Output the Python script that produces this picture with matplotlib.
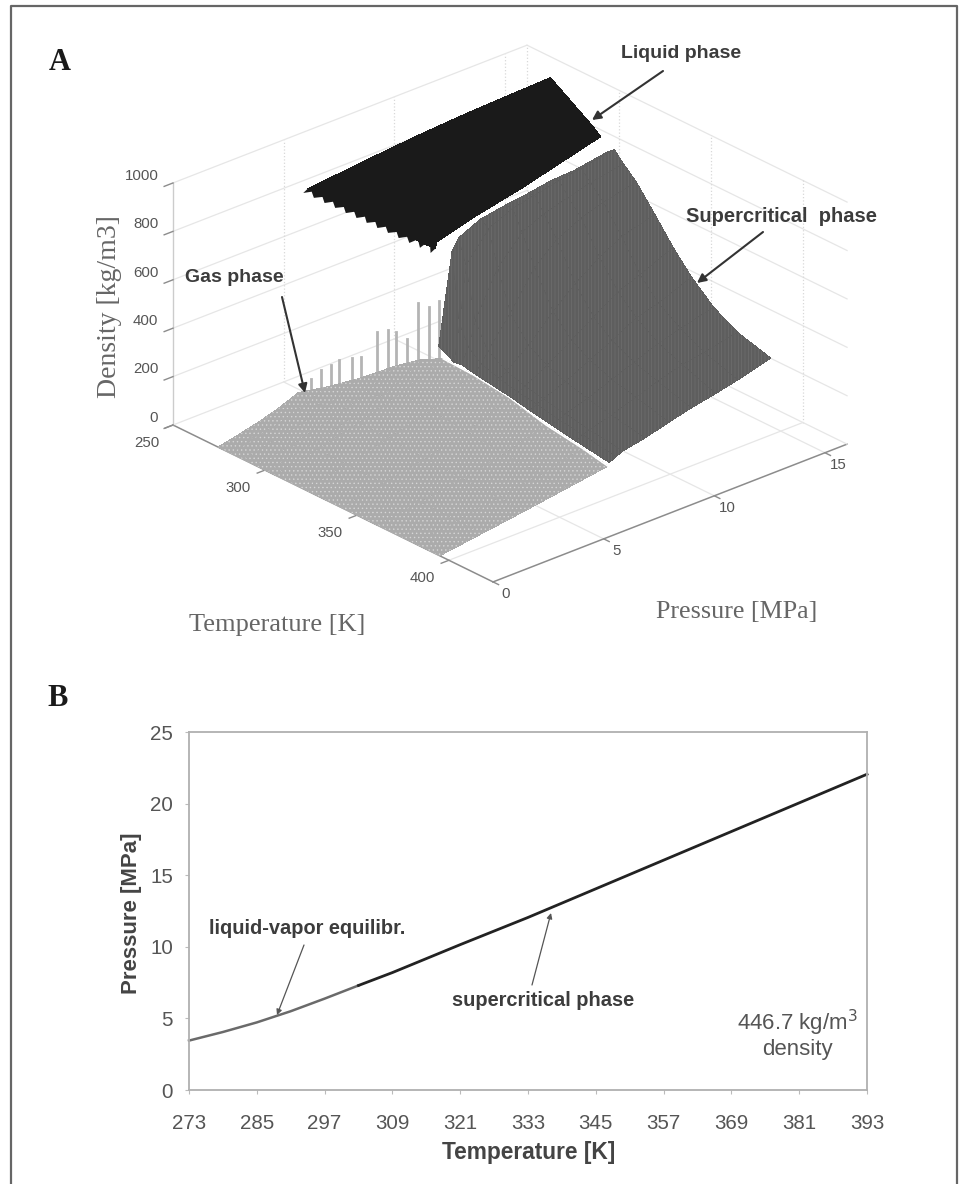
import matplotlib
matplotlib.use("Agg")
import matplotlib.pyplot as plt
import numpy as np
from matplotlib.lines import Line2D
from matplotlib.patches import FancyArrowPatch
from mpl_toolkits.mplot3d import proj3d
from mpl_toolkits.mplot3d.art3d import Poly3DCollection

FIG_W, FIG_H = 965, 1184
plt.rcParams["font.family"] = ["Liberation Sans", "DejaVu Sans"]
plt.rcParams["hatch.linewidth"] = 0.5

# panel A: axis ranges and ticks
temp_lim = (250, 424)
pres_lim = (0, 16)
dens_lim = (0, 1000)
temp_ticks = [250, 300, 350, 400]
pres_ticks = [0, 5, 10, 15]
dens_ticks = [0, 200, 400, 600, 800, 1000]

# gas phase, rows are temperatures, columns run from 0 up to gas_top_p
gas_t = [274.5, 281.5, 288.5, 295.5, 301.5, 305.5, 321.5, 341.5, 361.5, 381.5, 395]
gas_top_p = [3.64, 4.37, 5.2, 6.24, 6.97, 7.6, 7.6, 7.6, 7.6, 7.6, 7.6]
gas_steps = [0, 0.25, 0.5, 0.75, 1]
gas_rho = [
    [0, 18, 38, 63, 96],
    [0, 22, 46, 78, 120],
    [0, 26, 55, 92, 150],
    [0, 30, 66, 112, 190],
    [0, 35, 76, 130, 215],
    [0, 36, 80, 135, 210],
    [0, 35, 74, 122, 205],
    [0, 31, 66, 108, 185],
    [0, 28, 57, 92, 145],
    [0, 26, 52, 82, 122],
    [0, 24, 48, 74, 100],
]

# spikes along the top edge of the gas phase
spike_t = [278, 280.5, 282, 283.8, 286.5, 288.5, 292.5, 294.5, 296.3, 298.5, 301, 302.5, 303]
spike_p = [3.9, 4.15, 4.5, 4.7, 5.05, 5.3, 5.7, 6.0, 6.25, 6.55, 6.85, 7.2, 7.6]
spike_low = [105, 115, 120, 130, 140, 150, 160, 175, 185, 195, 205, 215, 205]
spike_high = [157, 195, 205, 229, 235, 234, 338, 343, 333, 302, 452, 428, 438]

# supercritical phase, first pressure of each row sits in super_start_p
super_t = [305.5, 309.5, 314.5, 321.5, 331.5, 341.5, 351.5, 363.5, 376.5, 394.5]
super_start_p = [7.4, 7.75, 7.7, 7.7, 7.7, 7.7, 7.7, 7.7, 7.7, 7.7]
super_p = [8.0, 8.3, 9.3, 10.4, 11.4, 12.5, 13.5, 15]
super_rho = [
    [270, 640, 685, 727, 744, 756, 773, 777, 800],
    [206, 360, 590, 700, 745, 765, 785, 800, 825],
    [215, 280, 380, 560, 665, 705, 735, 760, 785],
    [204, 232, 275, 395, 545, 625, 675, 705, 735],
    [192, 208, 230, 300, 400, 480, 550, 600, 640],
    [180, 190, 205, 255, 320, 380, 445, 480, 540],
    [164, 178, 190, 225, 275, 320, 375, 400, 455],
    [148, 160, 172, 200, 240, 275, 315, 340, 375],
    [131, 145, 155, 180, 215, 245, 275, 290, 320],
    [110, 122, 135, 153, 180, 203, 223, 244, 281],
]

# liquid phase body
liquid_t = [274.5, 276.5, 278.5, 280.5, 282.5, 284.5, 286.5, 288.5,
            290.5, 292.5, 294.5, 296.5, 298.5, 300.5, 302]
liquid_start_p = [4.05, 4.30, 4.55, 4.80, 5.06, 5.31, 5.56, 5.81,
                  6.07, 6.32, 6.57, 6.82, 7.08, 7.33, 7.52]
liquid_start_rho = [923, 903, 884, 864, 845, 825, 806, 786,
                    767, 747, 728, 708, 688, 669, 654]
liquid_p = [7.6, 9.3, 11.4, 15]
liquid_rho = [
    [955, 968, 980, 992],
    [945, 958, 970, 985],
    [935, 950, 962, 975],
    [925, 940, 952, 965],
    [915, 930, 943, 955],
    [905, 920, 934, 945],
    [892, 910, 924, 935],
    [880, 898, 913, 925],
    [865, 885, 900, 915],
    [850, 870, 887, 905],
    [830, 852, 873, 895],
    [810, 835, 858, 885],
    [775, 805, 835, 875],
    [745, 770, 805, 862],
    [680, 723, 764, 851],
]

# jagged lower edge of the liquid phase, tips and notches in turn
teeth_t = [274.5, 275.6, 276.8, 278, 279.1, 280.2, 281.4, 282.6, 283.7, 284.8, 286, 287.1, 288.2,
           289.4, 290.5, 291.6, 292.8, 294, 295.1, 296.2, 297.4, 298.6, 299.7, 300.9, 302]
teeth_p = [3.85, 4.14, 4.14, 4.43, 4.43, 4.72, 4.72, 5.01, 5.01, 5.3, 5.3, 5.59, 5.58,
           5.87, 5.87, 6.16, 6.16, 6.45, 6.45, 6.74, 6.74, 7.03, 7.03, 7.37, 7.32]
teeth_rho = [913, 912, 891, 889, 868, 867, 846, 844, 823, 822, 801, 800, 779,
             777, 756, 755, 734, 732, 711, 710, 689, 698, 667, 690, 644]

# panel B
b_temp_ticks = [273, 285, 297, 309, 321, 333, 345, 357, 369, 381, 393]
b_pres_ticks = [0, 5, 10, 15, 20, 25]
equil_t = [273, 279, 285, 291, 297, 303]
equil_p = [3.45, 4.05, 4.72, 5.5, 6.38, 7.3]
super_line_t = [303, 309, 321, 333, 345, 357, 369, 381, 393]
super_line_p = [7.3, 8.2, 10.15, 12.05, 14.05, 16.05, 18.05, 20.05, 22.05]


def fig_xy(x, y):
    return x / FIG_W, 1 - y / FIG_H


def to_pixels(ax, t, p, r):
    x, y, _ = proj3d.proj_transform(t, p, r, ax.get_proj())
    return ax.transData.transform((x, y))


def fit_box(ax, corner_a, corner_b, target_a, target_b):
    # move and scale the square 3d axes so two box corners land on given pixels
    pts = [to_pixels(ax, *corner_a), to_pixels(ax, *corner_b)]
    pos = ax.get_position()
    side = pos.width * FIG_W
    cx = (pos.x0 + pos.width / 2) * FIG_W
    cy = (pos.y0 + pos.height / 2) * FIG_H
    scale = (target_b[0] - target_a[0]) / (pts[1][0] - pts[0][0])
    new_side = side * scale
    new_cx = target_a[0] - (pts[0][0] - cx) * scale
    new_cy = (FIG_H - target_a[1]) - (pts[0][1] - cy) * scale
    ax.set_position([(new_cx - new_side / 2) / FIG_W, (new_cy - new_side / 2) / FIG_H,
                     new_side / FIG_W, new_side / FIG_H])


def add_arrow(fig, start, end, **kw):
    fig.add_artist(FancyArrowPatch(fig_xy(*start), fig_xy(*end), transform=fig.transFigure,
                                   arrowstyle="-|>", shrinkA=0, shrinkB=0, **kw))


fig = plt.figure(figsize=(FIG_W / 100, FIG_H / 100), dpi=100, facecolor="white")

# frame round the figure, open at the bottom
frame_x = [11 / FIG_W, 11 / FIG_W, 957 / FIG_W, 957 / FIG_W]
frame_y = [0, 1 - 6 / FIG_H, 1 - 6 / FIG_H, 0]
fig.add_artist(Line2D(frame_x, frame_y, color="#666666", lw=1.6))

ax = fig.add_axes([0.1, 0.3, 900 / FIG_W, 900 / FIG_H], projection="3d", computed_zorder=False)
ax.set_proj_type("ortho")
ax.view_init(elev=25.9, azim=-41.7)
ax.set_xlim(*temp_lim)
ax.set_ylim(*pres_lim)
ax.set_zlim(*dens_lim)
ax.set_box_aspect((481, 474, 269))
ax.set_axis_off()
fit_box(ax, (temp_lim[0], pres_lim[0], 0), (temp_lim[0], pres_lim[1], 0), (173, 425), (527, 287))
ax.set_xticks([])
ax.set_yticks([])
ax.set_zticks([])

# back walls and floor
grid = dict(color="#e6e6e6", lw=0.9, zorder=1)
dots = dict(color="#d8d8d8", lw=0.9, ls=":", zorder=1)
t0, t1 = temp_lim
p0, p1 = pres_lim
for r in dens_ticks[1:]:
    ax.plot([t0, t0], [p0, p1], [r, r], **grid)
    ax.plot([t0, t1], [p1, p1], [r, r], **grid)
for t in temp_ticks[1:]:
    ax.plot([t, t], [p1, p1], [0, 1000], **dots)
    ax.plot([t, t], [p0, p1], [0, 0], **grid)
for p in pres_ticks[1:]:
    ax.plot([t0, t0], [p, p], [0, 1000], **dots)
    ax.plot([t0, t1], [p, p], [0, 0], **grid)
ax.plot([t0, t0], [p1, p1], [0, 1000], **dots)
ax.plot([t0, t0], [p0, p0], [0, 1000], color="#cccccc", lw=1, zorder=1)
ax.plot([t0, t1], [p0, p0], [0, 0], color="#8c8c8c", lw=1.1, zorder=1)
ax.plot([t1, t1], [p0, p1], [0, 0], color="#8c8c8c", lw=1.1, zorder=1)
ax.plot([t0, t1], [p1, p1], [0, 0], **grid)
ax.plot([t0, t0], [p0, p1], [0, 0], **grid)

# tick marks and their labels, placed through the 3d projection
fig.canvas.draw()
tick_text = dict(color="#555555", fontsize=10.8, va="center")


def tick_label(t, p, r, text, ha):
    x, y = to_pixels(ax, t, p, r)
    fig.text(x / FIG_W, y / FIG_H, text, ha=ha, **tick_text)


for t in temp_ticks:
    ax.plot([t, t], [p0, p0 - 0.35], [0, 0], color="#8c8c8c", lw=1, zorder=1)
    tick_label(t, p0 - 1.2, -32, str(t), "center")
for p in pres_ticks:
    ax.plot([t1, t1 + 3], [p, p], [0, 0], color="#8c8c8c", lw=1, zorder=1)
    tick_label(t1 + 7, p, -25, str(p), "center")
for r in dens_ticks:
    ax.plot([t0, t0], [p0, p0 - 0.4], [r, r], color="#8c8c8c", lw=1, zorder=1)
    tick_label(t0 - 8, p0, r, str(r), "right")

# spikes behind the gas surface
for t, p, lo, hi in zip(spike_t, spike_p, spike_low, spike_high):
    ax.plot([t, t], [p, p], [lo, hi], color="#b4b4b4", lw=2.0, zorder=2)

# the three surfaces
g_t = np.outer(gas_t, np.ones(len(gas_steps)))
g_p = np.outer(gas_top_p, gas_steps)
ax.plot_surface(g_t, g_p, np.array(gas_rho), color="#ababab", shade=False, linewidth=0,
                antialiased=False, edgecolor="#d6d6d6", hatch="....", zorder=3)
ax.plot(gas_t[5:], gas_top_p[5:], [row[-1] for row in gas_rho[5:]], color="white", lw=1.2, zorder=4)

s_t = np.outer(super_t, np.ones(len(super_p) + 1))
s_p = np.column_stack([super_start_p] + [np.full(len(super_t), p) for p in super_p])
ax.plot_surface(s_t, s_p, np.array(super_rho), color="#5e5e5e", shade=False, linewidth=0,
                antialiased=False, edgecolor="#6f6f6f", hatch="|||||", zorder=5)

l_t = np.outer(liquid_t, np.ones(len(liquid_p) + 1))
l_p = np.column_stack([liquid_start_p] + [np.full(len(liquid_t), p) for p in liquid_p])
l_rho = np.column_stack([liquid_start_rho, np.array(liquid_rho)])
ax.plot_surface(l_t, l_p, l_rho, color="#1a1a1a", shade=False, linewidth=0, antialiased=False, zorder=6)
teeth_verts = list(zip(teeth_t, teeth_p, teeth_rho))
teeth_verts += list(zip(liquid_t[::-1], liquid_start_p[::-1], liquid_start_rho[::-1]))
ax.add_collection3d(Poly3DCollection([teeth_verts], facecolor="#1a1a1a", edgecolor="none", zorder=6))

# panel A texts
note = dict(fontweight="bold", color="#3c3c3c", ha="center", va="center")
serif = dict(family="Liberation Serif", color="#666666", ha="center", va="center")
fig.text(*fig_xy(60, 62), "A", family="Liberation Serif", fontweight="bold", fontsize=22,
         color="#1a1a1a", ha="center", va="center")
fig.text(*fig_xy(681, 53), "Liquid phase", fontsize=14, **note)
fig.text(*fig_xy(782, 216), "Supercritical  phase", fontsize=14.5, **note)
fig.text(*fig_xy(234, 277), "Gas phase", fontsize=14, **note)
fig.text(*fig_xy(277, 625), "Temperature [K]", fontsize=19, **serif)
fig.text(*fig_xy(737, 612), "Pressure [MPa]", fontsize=18.7, **serif)
fig.text(*fig_xy(110, 307), "Density [kg/m3]", fontsize=20, rotation=90, **serif)

thick = dict(color="#333333", lw=1.5, mutation_scale=13)
add_arrow(fig, (663, 71), (592, 120), **thick)
add_arrow(fig, (763, 232), (697, 283), **thick)
add_arrow(fig, (282, 297), (305, 393), **thick)

# panel B
ax_b = fig.add_axes([189 / FIG_W, 1 - 1090 / FIG_H, 678 / FIG_W, 358 / FIG_H])
ax_b.plot(equil_t, equil_p, color="#6a6a6a", lw=1.8, clip_on=False)
ax_b.plot(super_line_t, super_line_p, color="#222222", lw=2.0, clip_on=False)
ax_b.set_xlim(273, 393)
ax_b.set_ylim(0, 25)
ax_b.set_xticks(b_temp_ticks)
ax_b.set_yticks(b_pres_ticks)
ax_b.tick_params(colors="#555555", labelsize=14.8, length=3, color="#bbbbbb", pad=14)
ax_b.tick_params(axis="y", pad=8.5)
for spine in ax_b.spines.values():
    spine.set_color("#b0b0b0")
    spine.set_linewidth(1.3)

fig.text(*fig_xy(58, 698), "B", family="Liberation Serif", fontweight="bold", fontsize=22,
         color="#1a1a1a", ha="center", va="center")
fig.text(*fig_xy(307, 928), "liquid-vapor equilibr.", fontsize=14.4, **note)
fig.text(*fig_xy(543, 1000), "supercritical phase", fontsize=14.4, **note)
fig.text(*fig_xy(797, 1023), "446.7 kg/m$^3$", fontsize=16, color="#555555", ha="center", va="center")
fig.text(*fig_xy(797, 1049), "density", fontsize=16, color="#555555", ha="center", va="center")
fig.text(*fig_xy(529, 1153), "Temperature [K]", fontsize=16.4, fontweight="bold", color="#444444",
         ha="center", va="center")
fig.text(*fig_xy(131, 913), "Pressure [MPa]", fontsize=16, fontweight="bold", color="#444444",
         rotation=90, ha="center", va="center")

thin = dict(color="#555555", lw=0.9, mutation_scale=8)
add_arrow(fig, (304, 945), (277, 1015), **thin)
add_arrow(fig, (532, 985), (551, 913), **thin)

fig.savefig("out.png", dpi=100)
